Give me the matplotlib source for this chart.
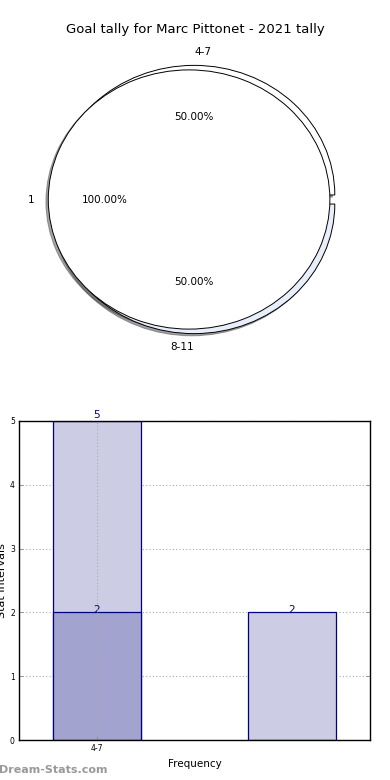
import matplotlib
matplotlib.use("Agg")
import matplotlib.pyplot as plt

title = "Goal tally for Marc Pittonet - 2021 tally"
pie_outer_labels = ["4-7", "8-11"]
pie_outer_values = [1, 1]
pie_inner_labels = ["1"]
pie_inner_values = [1]

bar_positions = [0, 1]
bar_light_values = [5, 2]
bar_dark_positions = [0]
bar_dark_values = [2]
xtick_positions = [0]
xtick_labels = ["4-7"]
yticks = [0, 1, 2, 3, 4, 5]

navy = "#000080"
light = "#ccccE4"
dark = "#a3a3d0"

fig = plt.figure(figsize=(3.9, 7.8), dpi=100)

# Pie chart
axp = fig.add_axes([18/390, 1 - 361.5/780, 352/390, 324/780])
wp = dict(edgecolor="black", linewidth=0.7)
shadow = dict(ox=-0.012, oy=-0.012)
_, t_outer, _ = axp.pie(pie_outer_values, labels=pie_outer_labels, explode=[0.035, 0.035],
                        colors=["white", "#e8eefa"], autopct="%.2f%%", shadow=shadow,
                        wedgeprops=wp, textprops=dict(fontsize=7.5))
t_outer[0].set_ha("left")
t_outer[1].set_ha("right")
axp.pie(pie_inner_values, labels=pie_inner_labels, explode=[0.035],
        colors=["white"], autopct="%.2f%%", shadow=shadow,
        wedgeprops=wp, textprops=dict(fontsize=7.5))
axp.set_aspect("auto")
axp.set_xlim(-1.25, 1.25)
axp.set_ylim(-1.25, 1.25)
axp.axis("off")
fig.text(0.5, 1 - 30/780, title, ha="center", va="center", fontsize=9.5)

# Bar chart
axb = fig.add_axes([19/390, 40/780, 351/390, 319/780])
width = 0.45
axb.bar(bar_positions, bar_light_values, width, color=light, edgecolor=navy,
        linewidth=0.9, zorder=2)
axb.bar(bar_dark_positions, bar_dark_values, width, color=dark, edgecolor=navy,
        linewidth=0.9, zorder=2.2)
axb.text(bar_positions[0], bar_light_values[0] + 0.02, str(bar_light_values[0]),
         ha="center", va="bottom", fontsize=7.5, color=navy, zorder=1)
axb.text(bar_positions[1], bar_light_values[1] - 0.04, str(bar_light_values[1]),
         ha="center", va="bottom", fontsize=7.5, color=navy, zorder=1)
for x, v in zip(bar_dark_positions, bar_dark_values):
    axb.text(x, v - 0.04, str(v), ha="center", va="bottom", fontsize=7.5,
             color=navy, zorder=2.1)
axb.set_xlim(-0.4, 1.4)
axb.set_ylim(0, 5)
axb.set_yticks(yticks)
axb.set_xticks(xtick_positions)
axb.set_xticklabels(xtick_labels)
axb.tick_params(labelsize=5.5, direction="in", length=3, width=0.6,
                right=True, top=False, pad=3, colors="#888888", labelcolor="black")
axb.grid(True, linestyle=(0, (1, 2)), color="#aaaaaa", linewidth=0.8)
axb.xaxis.set_zorder(3)
axb.yaxis.set_zorder(0.5)
for s in axb.spines.values():
    s.set_linewidth(1.0)
    s.set_zorder(3.5)
axb.set_xlabel("Frequency", fontsize=7.5, labelpad=4)
axb.set_ylabel("Stat Intervals", fontsize=8)
axb.yaxis.set_label_coords(-0.035, 0.5)

fig.text(-0.003, 1 - 770/780, "Dream-Stats.com", ha="left", va="center",
         fontsize=8, color="#999999", fontweight="bold")

fig.savefig("out.png", dpi=100)
